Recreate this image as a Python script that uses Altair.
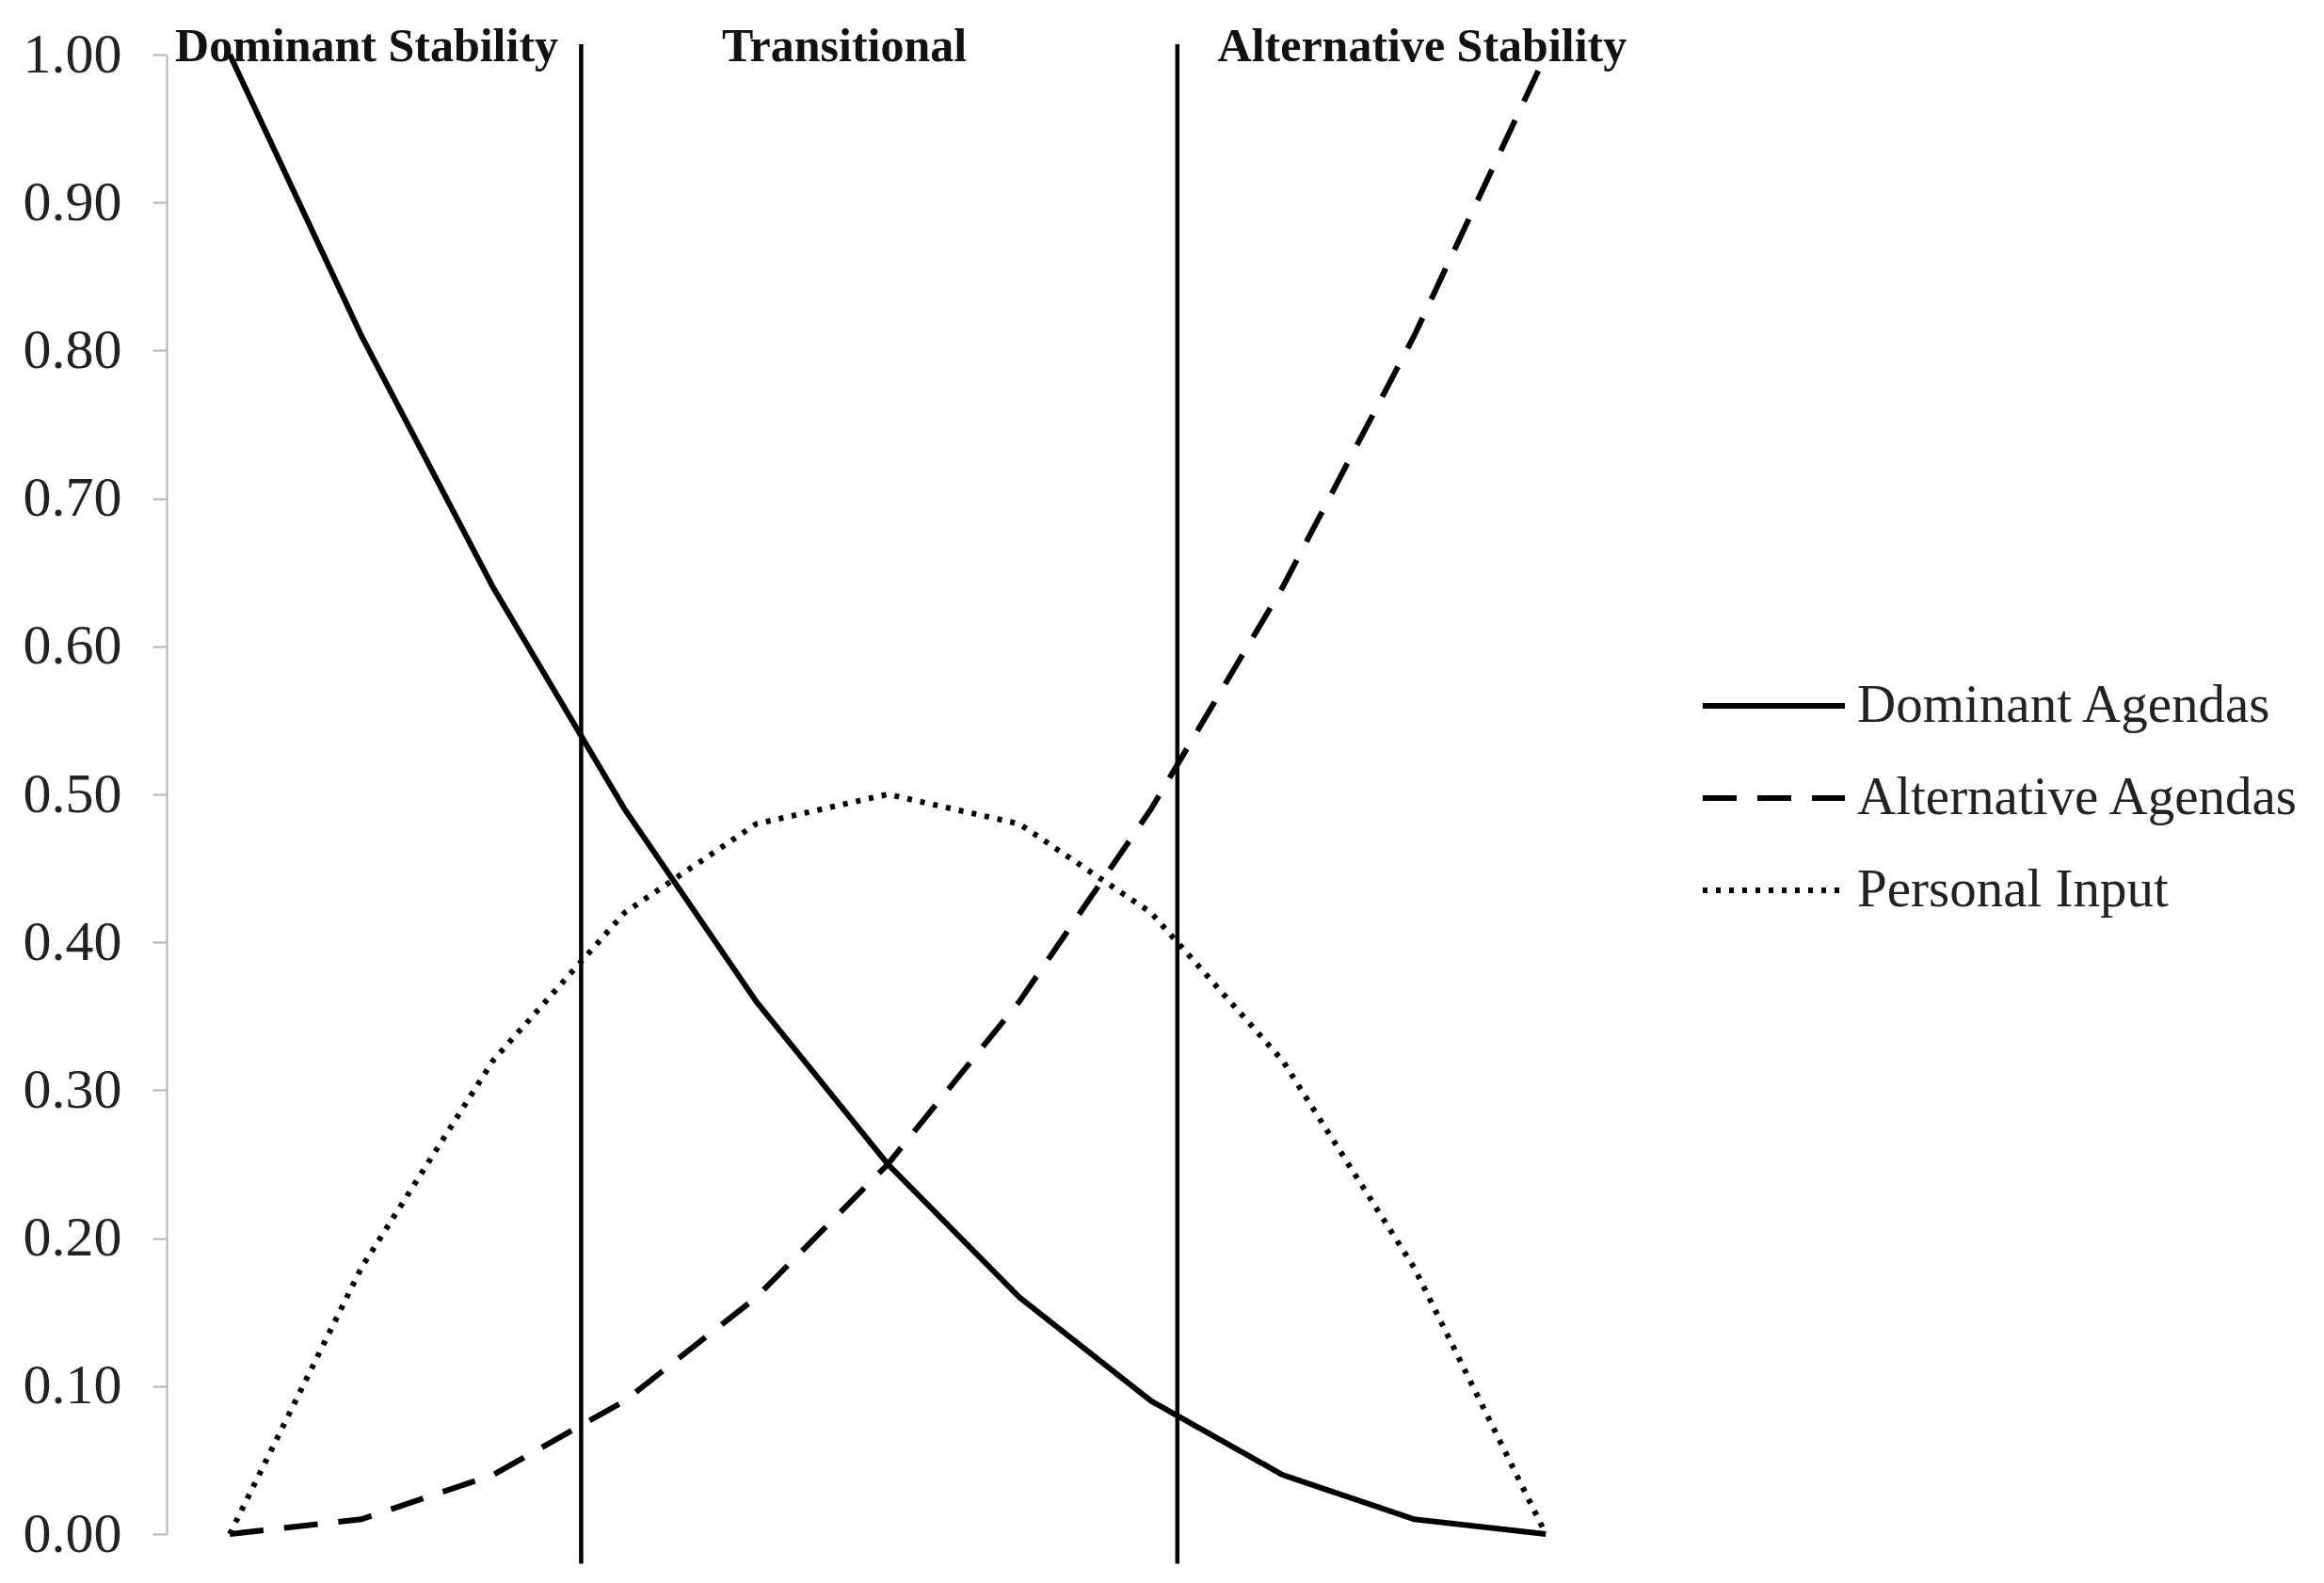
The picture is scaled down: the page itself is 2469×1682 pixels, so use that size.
import altair as alt
import pandas as pd

# ---- data ----
x_vals = [0.0, 0.1, 0.2, 0.3, 0.4, 0.5, 0.6, 0.7, 0.8, 0.9, 1.0]
dominant = [1.00, 0.81, 0.64, 0.49, 0.36, 0.25, 0.16, 0.09, 0.04, 0.01, 0.00]
alternative = [0.00, 0.01, 0.04, 0.09, 0.16, 0.25, 0.36, 0.49, 0.64, 0.81, 1.00]
personal = [0.00, 0.18, 0.32, 0.42, 0.48, 0.50, 0.48, 0.42, 0.32, 0.18, 0.00]
series_names = ["Dominant Agendas", "Alternative Agendas", "Personal Input"]

phase_names = ["Dominant Stability", "Transitional", "Alternative Stability"]
phase_label_x = [0.104, 0.467, 0.906]
phase_label_y = [1.005, 1.005, 1.005]
boundary_x = [0.267, 0.72]
boundary_y_low = [-0.02, -0.02]
boundary_y_high = [1.007, 1.007]
y_ticks = [0.0, 0.1, 0.2, 0.3, 0.4, 0.5, 0.6, 0.7, 0.8, 0.9, 1.0]

rows = []
for name, vals in zip(series_names, [dominant, alternative, personal]):
    for xv, yv in zip(x_vals, vals):
        rows.append({"x": xv, "y": yv, "series": name})
lines_df = pd.DataFrame(rows)

bound_df = pd.DataFrame({"x": boundary_x, "y": boundary_y_low, "y2": boundary_y_high})
label_df = pd.DataFrame({"x": phase_label_x, "y": phase_label_y, "label": phase_names})

xscale = alt.Scale(domain=[-0.048, 1.052], nice=False, zero=False)
yscale = alt.Scale(domain=[0, 1], nice=False)

lines = alt.Chart(lines_df).mark_line(color="black", strokeWidth=6, strokeCap="butt").encode(
    x=alt.X("x:Q", scale=xscale, axis=None),
    y=alt.Y(
        "y:Q",
        scale=yscale,
        axis=alt.Axis(
            title="",
            values=y_ticks,
            format=".2f",
            grid=False,
            labelFont="Liberation Serif",
            labelFontSize=60,
            labelColor="#222222",
            labelPadding=33,
            domainColor="#b5b5b5",
            domainWidth=2,
            tickColor="#b5b5b5",
            tickWidth=2,
            tickSize=15,
        ),
    ),
    strokeDash=alt.StrokeDash(
        "series:N",
        scale=alt.Scale(domain=series_names, range=[[1, 0], [36, 22], [5, 9]]),
        sort=series_names,
        legend=alt.Legend(
            title=None,
            orient="none",
            legendX=1629,
            legendY=643,
            symbolType="stroke",
            symbolSize=22800,
            symbolStrokeWidth=6,
            symbolStrokeColor="black",
            labelFont="Liberation Serif",
            labelFontSize=57,
            labelColor="#222222",
            labelOffset=10,
            labelLimit=800,
            clipHeight=98,
            rowPadding=0,
        ),
    ),
    detail="series:N",
)

rules = alt.Chart(bound_df).mark_rule(color="black", strokeWidth=4.5).encode(
    x=alt.X("x:Q", scale=xscale),
    y=alt.Y("y:Q", scale=yscale),
    y2="y2:Q",
)

labels = alt.Chart(label_df).mark_text(
    font="Liberation Serif", fontSize=50, fontWeight="bold", color="#111111", baseline="middle"
).encode(
    x=alt.X("x:Q", scale=xscale),
    y=alt.Y("y:Q", scale=yscale),
    text="label:N",
)

chart = (
    alt.layer(lines, rules, labels)
    .properties(
        width=1538,
        height=1572,
        autosize=alt.AutoSizeParams(type="none"),
        padding={"left": 169, "top": 50, "right": 746, "bottom": 40},
        background="white",
    )
    .configure_view(strokeWidth=0)
)

chart.save("out.html", embed_options={"renderer": "svg", "actions": False})
